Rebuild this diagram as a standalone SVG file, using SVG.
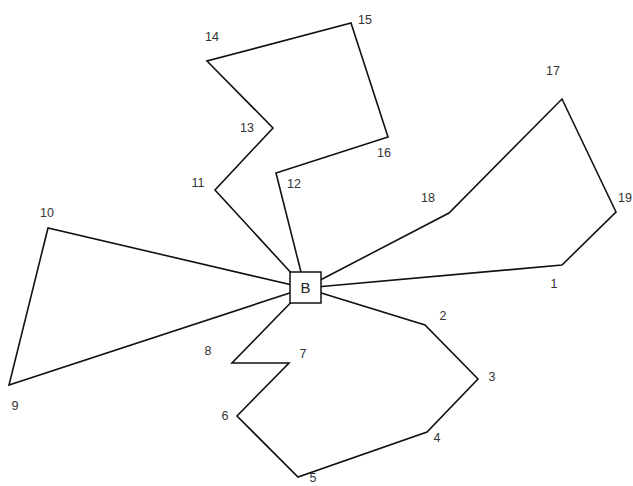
<svg xmlns="http://www.w3.org/2000/svg" width="633" height="486" viewBox="0 0 633 486">
<style>
.e{fill:none;stroke:#111;stroke-width:1.6;stroke-linejoin:miter}
.t{font-family:"Liberation Sans",Arial,sans-serif;font-size:12.5px;fill:#333;text-anchor:middle}
.b{fill:#fff;stroke:#111;stroke-width:1.5}
.bt{font-family:"Liberation Sans",Arial,sans-serif;font-size:15px;fill:#222;text-anchor:middle}
</style>
<rect width="633" height="486" fill="#fff"/>
<g id="connectors">
<polyline class="e" points="305,288 562,265 616,212 562,99 449,213 305,288"/>
<polyline class="e" points="305,288 215,190 273,128 207,61 351,23 388,137 276,173 305,288"/>
<polyline class="e" points="305,288 48,228 9,385 305,288"/>
<polyline class="e" points="305,288 232,363 289,363 237,416 298,477 427,432 478,379 425,325 305,288"/>
</g>
<g id="n1"><text class="t" x="554" y="288">1</text></g>
<g id="n2"><text class="t" x="443" y="320">2</text></g>
<g id="n3"><text class="t" x="492" y="381">3</text></g>
<g id="n4"><text class="t" x="437" y="442">4</text></g>
<g id="n5"><text class="t" x="313" y="482">5</text></g>
<g id="n6"><text class="t" x="225" y="420">6</text></g>
<g id="n7"><text class="t" x="303" y="358">7</text></g>
<g id="n8"><text class="t" x="208" y="355">8</text></g>
<g id="n9"><text class="t" x="15" y="410">9</text></g>
<g id="n10"><text class="t" x="47" y="217">10</text></g>
<g id="n11"><text class="t" x="198" y="187">11</text></g>
<g id="n12"><text class="t" x="294" y="188">12</text></g>
<g id="n13"><text class="t" x="247" y="132">13</text></g>
<g id="n14"><text class="t" x="212" y="41">14</text></g>
<g id="n15"><text class="t" x="365" y="24">15</text></g>
<g id="n16"><text class="t" x="384" y="157">16</text></g>
<g id="n17"><text class="t" x="553" y="75">17</text></g>
<g id="n18"><text class="t" x="428" y="202">18</text></g>
<g id="n19"><text class="t" x="625" y="202">19</text></g>
<g id="B"><rect class="b" x="290" y="272" width="31" height="31"/><text class="bt" x="305.5" y="293">B</text></g>
</svg>
